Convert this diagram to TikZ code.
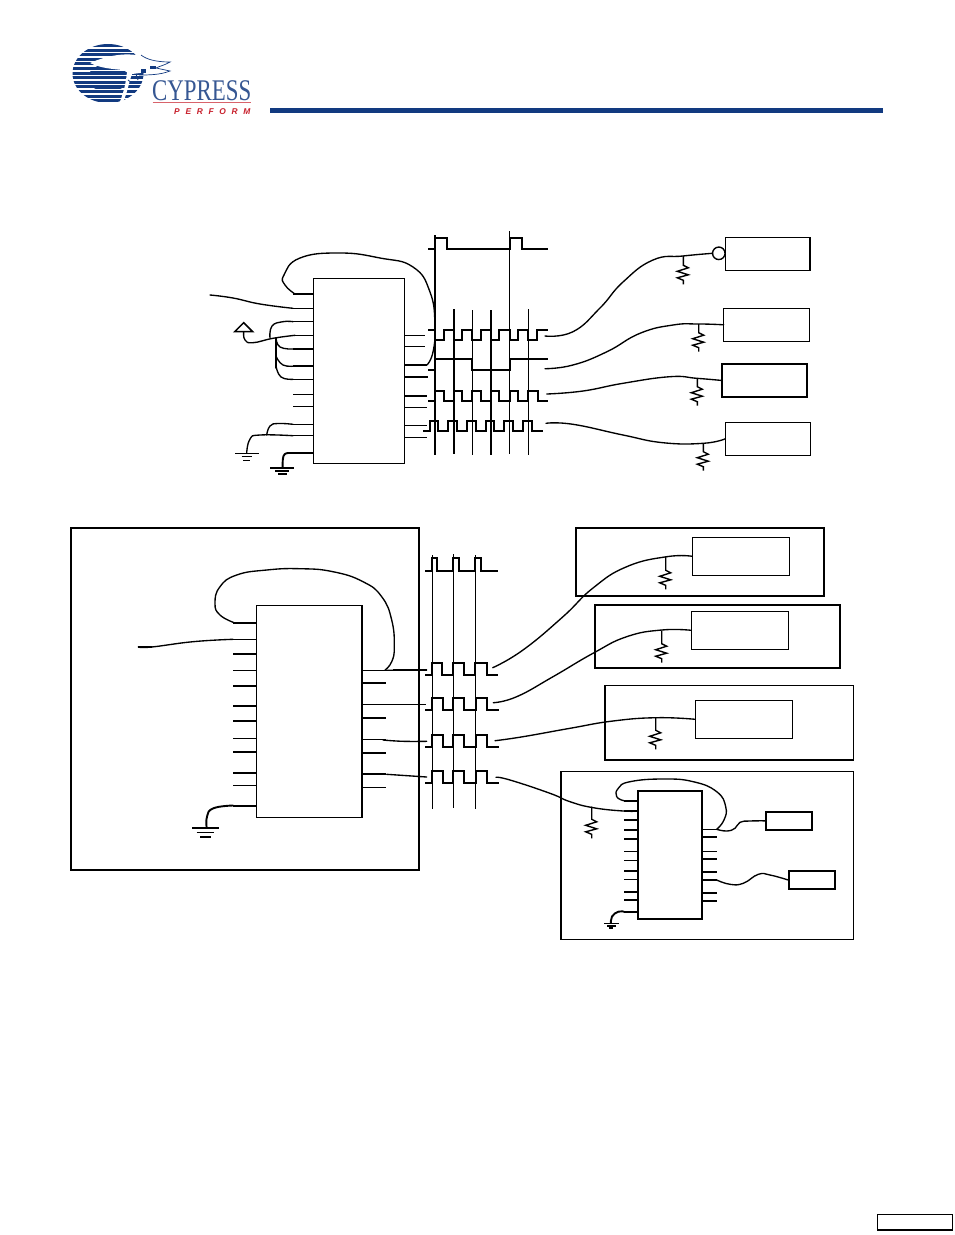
\documentclass[tikz,border=0pt]{standalone}
\usepackage{fontspec}
\setmainfont{Liberation Serif}
\newfontfamily\logosans{Liberation Sans}
\definecolor{cyblue}{HTML}{123A80}
\definecolor{cyred}{HTML}{C8202C}
\tikzset{
  thinl/.style={line width=1.1pt},
  thickl/.style={line width=1.9pt},
  curve/.style={line width=1.35pt,line cap=round,line join=round},
  sm/.style={smooth,tension=0.8},
  boxst/.style={draw,line width=1.4pt,inner sep=0pt,outer sep=0pt},
  boxthick/.style={draw,line width=2.1pt,inner sep=0pt,outer sep=0pt},
  wavel/.style={line width=1.9pt,line join=miter},
  resl/.style={line width=1.4pt,line join=miter},
}
\newcommand{\boxat}[6][boxst]{\node[#1,minimum width={#5-#3},minimum height={#6-#4}] (#2) at ({(#3+#5)/2},{(#4+#6)/2}) {};}
% resistor: name, x, top y, bottom y
\newcommand{\resis}[4]{\coordinate (#1top) at (#2,#3); \coordinate (#1bot) at (#2,#4);
  \draw[resl] (#1top) -- (#2,#4-19) -- ++(5,2.5) -- ++(-11,3.5) -- ++(11,3.5) -- ++(-11,3) -- ++(6,2.5) -- (#1bot);}
\begin{document}
\begin{tikzpicture}[x=1pt,y=-1pt]
\useasboundingbox (0,0) rectangle (954,1235);
\fill[white] (0,0) rectangle (954,1235);
% ---------- logo
\begin{scope}
  \clip (108,73.5) ellipse [x radius=35.5,y radius=29.5];
  \foreach \yy in {44,48.6,...,104}{\fill[cyblue] (70,\yy) rectangle (146,\yy+2.9);}
  \fill[cyblue] (108,78) ellipse [x radius=20,y radius=14];
  \foreach \yy in {70.2,74.8,79.4,84,88.6}{\fill[white] (85,\yy) rectangle (128,\yy+1.1);}
\end{scope}
\fill[white] (90,63) .. controls (106,56) and (125,52) .. (141,56) -- (143,62) -- (157,65) -- (157,72) -- (140,73) -- (132,74) .. controls (128,85) and (127,95) .. (122,104) -- (119,104) .. controls (124,92) and (126,82) .. (127,72) -- (123,70) .. controls (112,69) and (100,68) .. (90,63) -- cycle;
\draw[cyblue,line width=0.7pt] (141,55) .. controls (146,59) and (155,62) .. (170,62) .. controls (165,65) and (160,66) .. (156,68) -- (170,71) .. controls (160,75) and (148,75) .. (139,75);
\fill[cyblue] (141,69) rectangle (146,72.5);
\fill[cyblue] (150,66) rectangle (156,69);
\draw[cyblue,line width=0.8pt] (128,80) -- (132,83) (136,74) -- (138,80);
\node[inner sep=0pt,anchor=base west,xscale=0.762,text=cyblue!85,font=\fontsize{30}{30}\selectfont] (logoname) at (152,100) {CYPRESS};
\draw[cyred!70,line width=0.6pt] (152.7,102.7) -- (250.7,102.7);
\node[inner sep=0pt,anchor=base west,text=cyred,font=\logosans\bfseries\itshape\fontsize{8.4}{8.4}\selectfont\addfontfeature{LetterSpace=68}] (logoperf) at (174,114) {PERFORM};
\fill[cyblue] (270,108) rectangle (883,113);
% ---------- top section
\boxat{u1}{313.3}{278.7}{404.7}{463.3}
\boxat{t2}{723.7}{308.3}{809.3}{341.3}
\boxat{t1}{725.3}{237.3}{810}{270.3}
\boxat[boxthick]{t3}{722.3}{364}{807.3}{397}
\boxat{t4}{725.3}{422.3}{810.3}{455.3}
\foreach \yy in {308.3,321.7,335.3,379.3,394.3,406.3,424.3,435.7}{\draw[thinl] (u1.west |- 0,\yy) -- ++(-20,0);}
\foreach \yy in {294,349,366}{\draw[thickl] (u1.west |- 0,\yy) -- ++(-20,0);}
\draw[thickl] (u1.west |- 0,453) -- ++(-25,0) coordinate (g2a);
\foreach \yy/\ww in {335.3/20,346.3/20,407.3/22,425.3/22,437.3/22}{\draw[thinl] (u1.east |- 0,\yy) -- ++(\ww,0);}
\foreach \yy/\ww in {365/22,377/23,396/22}{\draw[thickl] (u1.east |- 0,\yy) -- ++(\ww,0);}
% feedback loop
\coordinate (lp1) at (295,294);
\coordinate (lp2) at (427,365);
\draw[curve] plot[sm] coordinates {(lp1) (285,285) (284,275) (300,258) (340,253) (380,258) (413,267) (430,292) (435,325) (433,352) (lp2)};
% input
\coordinate (in1) at (210,295);
\coordinate (in1e) at (293,308.3);
\draw[curve] plot[sm] coordinates {(in1) (233,298) (260,304) (in1e)};
% supply arrow and straps
\coordinate (vcc) at (243.7,331.7);
\coordinate (vt) at (243.7,322.7);
\draw[line width=1.5pt,line join=miter] (vt) -- (234.7,331.7) -- (252.7,331.7) -- cycle;
\draw[curve] plot[sm] coordinates {(vcc) (245,340) (253,342.7) (273,338.3) (295,335.3)};
\draw[curve] plot[sm] coordinates {(270,338) (272,326) (283,321.7) (293,321.7)};
\draw[curve] plot[sm] coordinates {(276,338) (280,347) (293,349)};
\draw[curve] (276,338) -- (276,368);
\draw[curve] plot[sm] coordinates {(276,356) (283,365) (296,366)};
\draw[curve] plot[sm] coordinates {(276,366) (281,377) (293,379.3)};
% grounds
\coordinate (g1) at (246.7,453);
\draw[curve] plot[sm] coordinates {(g1) (250,439) (260,435) (293,435.7)};
\draw[curve] plot[sm] coordinates {(266.7,435) (270,426) (278,423.5) (293,424.3)};
\draw[thinl] (235,453.3) -- (259,453.3) (241.7,456.9) -- (251.7,456.9) (243,460.3) -- (250,460.3);
\draw[thickl] plot[sm] coordinates {(g2a) (283.5,456) (282.7,467.7)};
\draw[thickl] (270,467.7) -- (294,467.7) (275,471) -- (289,471) (278,474.3) -- (287,474.3);
% timing rails
\foreach \xx/\ya/\yb/\lw in {435/235/455/1.9,454/309/454/1.7,472.3/310/455/1.1,491/310/455/1.7,509.7/231/454/1.1,528.3/309/455/1.1}{\draw[line width=\lw pt] (\xx,\ya) -- (\xx,\yb);}
% waves top
\draw[wavel] (428.3,249) -| (435,238) -| (447,249) -| (510,238) -| (522,249) -- (547.7,249);
\draw[wavel] (428.3,330.3) -| (435,340.3) -| (444.3,330.3) -| (454.3,340.3) -| (462.3,330.3) -| (472.3,340.3) -| (480.7,330.3) -| (491,340.3) -| (499,330.3) -| (509.7,340.3) -| (517.7,330.3) -| (528.3,340.3) -| (536.7,330.3) -- (547.7,330.3);
\draw[wavel] (428.3,370.3) -| (435,359.3) -| (472.3,370.3) -| (509.7,359.3) -- (547.7,359.3);
\draw[wavel] (428.3,400.7) -| (435,390.7) -| (444.3,400.7) -| (454,390.7) -| (462.3,400.7) -| (472.3,390.7) -| (480.7,400.7) -| (491,390.7) -| (499,400.7) -| (509.7,390.7) -| (517.7,400.7) -| (528.3,390.7) -| (537.7,400.7) -- (547.7,400.7);
\draw[wavel] (423.3,430.7) -| (430,420.7) -| (438.3,430.7) -| (448.3,420.7) -| (456.7,430.7) -| (466.7,420.7) -| (475.7,430.7) -| (485.7,420.7) -| (494,430.7) -| (504,420.7) -| (513.3,430.7) -| (522.7,420.7) -| (532.3,430.7) -- (542.7,430.7);
% terminator and outgoing traces
\node[draw,circle,line width=1.4pt,minimum size=12.5pt,inner sep=0pt,outer sep=0pt] (term) at (718.8,253.3) {};
\coordinate (o1) at (545,336);
\coordinate (o2) at (545,368.7);
\coordinate (o3) at (546.7,394);
\coordinate (o4) at (546,423.3);
\draw[curve] plot[sm] coordinates {(o1) (573,331.7) (600,308) (623,282) (653,260) (683,256) (term.west)};
\draw[curve] plot[sm] coordinates {(o2) (573,365) (607,351.7) (640,333.3) (673,325) (698.7,324) (t2.west)};
\draw[curve] plot[sm] coordinates {(o3) (583,391) (623,383.3) (670,376.7) (696.7,378.3) (t3.west)};
\draw[curve] plot[sm] coordinates {(o4) (573,424.3) (623,435) (663,442.7) (703.3,443.3) (t4.west)};
\resis{r1}{683.3}{256}{284.3}
\resis{r2}{698.7}{324}{351.7}
\resis{r3}{697.3}{378.3}{405.7}
\resis{r4}{703.3}{443.3}{470.7}
% ---------- lower section
\boxat[boxthick]{outer}{71}{528}{419}{870}
\boxat{u2}{256.7}{605.7}{362}{817.3}
\foreach \yy in {639.3,670.3,738.3,785.7}{\draw[thinl] (u2.west |- 0,\yy) -- ++(-23.4,0);}
\foreach \yy in {623,654,685.7,705.7,721,751.7,773,805.7}{\draw[thickl] (u2.west |- 0,\yy) -- ++(-23.4,0);}
\foreach \yy in {670.3,704.3,739.3,787.3}{\draw[thinl] (u2.east |- 0,\yy) -- ++(24,0);}
\foreach \yy in {683,718,752.7,774}{\draw[thickl] (u2.east |- 0,\yy) -- ++(24,0);}
\coordinate (lq1) at (235,623);
\coordinate (lq2) at (385,670);
\draw[curve] plot[sm] coordinates {(lq1) (220,615) (215,603.3) (220,586.7) (236.7,575) (266.7,570) (300,568.7) (333,571.7) (363,581.7) (381.7,596.7) (391.7,620) (394.3,646.7) (391.7,661.7) (lq2)};
\coordinate (in2) at (138.3,647);
\coordinate (in2e) at (233,639.3);
\draw[curve] plot[sm] coordinates {(in2) (151.7,647) (193,641.7) (in2e)};
\draw[thickl] (138.3,647) -- (151.7,647);
\coordinate (g3) at (206.7,827.7);
\draw[thickl] plot[sm] coordinates {(233.3,805.5) (213.3,808.3) (207,816.7) (g3)};
\draw[thickl] (192,827.7) -- (219,827.7) (200,836.7) -- (211,836.7);
\draw[thinl] (196.7,832.7) -- (214.3,832.7);
% rails and links
\foreach \xx/\ya/\yb in {432.3/555/809.3,453.3/554/808.3,475.3/555/809.3}{\draw[thinl] (\xx,\ya) -- (\xx,\yb);}
\draw[curve] (386,670.3) -- (426.7,670);
\draw[thickl] (393,670) -- (426.7,670);
\draw[thinl] (386,704.3) -- (426,704.3);
\draw[curve] plot[sm] coordinates {(383,740) (403,741.3) (426.7,741.3)};
\draw[curve] (386.7,774.3) -- (426.7,777);
% waves lower
\draw[wavel] (425,570.7) -| (432.3,558.3) -| (437.3,570.7) -| (453.3,558.3) -| (459,570.7) -| (475.3,558.3) -| (481,570.7) -- (497.7,570.7);
\draw[wavel] (425,675) -| (431.7,662.7) -| (442.3,675) -| (453.3,662.7) -| (464,675) -| (475.3,662.7) -| (486.7,675) -- (497.7,675);
\draw[wavel] (425,710) -| (432.3,698) -| (443.3,710) -| (453.3,698) -| (464.3,710) -| (476,698) -| (486.7,710) -- (498.7,710);
\draw[wavel,line width=2.3pt] (425,747.3) -| (432.3,735.3) -| (443.3,747.3) -| (453.3,735.3) -| (464.3,747.3) -| (476,735.3) -| (486.7,747.3) -- (498.7,747.3);
\draw[wavel] (425,783) -| (432.3,770.7) -| (443.3,783) -| (453.3,770.7) -| (464.3,783) -| (476,770.7) -| (486.7,783) -- (498.7,783);
% receiver boards
\boxat[boxst,line width=1.7pt]{ba}{576}{528}{824.3}{595.7}
\boxat{ia}{692.3}{537.3}{789.3}{575.3}
\boxat[boxthick]{bb}{595}{605}{840}{668.3}
\boxat{ib}{691.3}{611.3}{788.3}{649.3}
\boxat[boxst,line width=1.3pt]{bc}{605}{685.7}{853.3}{760}
\boxat{ic}{695.3}{700.3}{792.3}{738.3}
\coordinate (pa) at (492.7,667.7);
\coordinate (pb) at (493.3,702.7);
\coordinate (pc) at (495,740.7);
\coordinate (pd) at (496,777.3);
\draw[curve] plot[sm] coordinates {(pa) (523,650) (563,616.7) (593,588) (626.7,566.7) (666.7,556.7) (ia.west)};
\draw[curve] plot[sm] coordinates {(pb) (516.7,696.7) (553,676.7) (593,653.3) (626.7,636.7) (661.7,630) (ib.west)};
\draw[curve] plot[sm] coordinates {(pc) (523,736.7) (570,728.3) (613,721) (656.7,717.7) (ic.west)};
\resis{ra}{665.7}{556.7}{589.3}
\resis{rb}{661.7}{630.7}{662.7}
\resis{rc}{655.7}{717.7}{749.3}
% board D
\boxat[boxst,line width=1.4pt]{bd}{561}{771.7}{853.3}{939.3}
\boxat[boxst,line width=1.6pt]{u3}{638}{790.7}{702}{919}
\boxat[boxst,line width=1.8pt]{ld1}{766}{811.7}{812.3}{830}
\boxat[boxst,line width=2pt]{ld2}{788.7}{871}{835.3}{889.3}
\foreach \yy in {851.3,860.3,879.3}{\draw[thinl] (u3.west |- 0,\yy) -- ++(-14,0);}
\foreach \yy in {800.7,811,819.7,829.7,838.7,871,891.7,900,911.7}{\draw[thickl] (u3.west |- 0,\yy) -- ++(-14,0);}
\foreach \yy in {829.3,851.3}{\draw[thinl] (u3.east |- 0,\yy) -- ++(15.3,0);}
\foreach \yy in {836.7,858.7,871.7,880,892.7,900.7}{\draw[thickl] (u3.east |- 0,\yy) -- ++(15.3,0);}
\draw[curve] plot[sm] coordinates {(pd) (510,780) (550,793.3) (570,801.7) (593.3,807.7) (623.3,811) (u3.west |- 0,811)};
\resis{rd}{591.7}{806.7}{838.3}
\coordinate (lr1) at (624,800.7);
\coordinate (lr2) at (716.7,829.3);
\draw[curve] plot[sm] coordinates {(lr1) (616.7,796.7) (618.3,788.3) (630,781.7) (663.3,779) (693.3,781.7) (716.7,791.7) (725.7,806.7) (724,820) (lr2)};
\draw[curve] plot[sm] coordinates {(lr2) (726.7,831) (735,828.3) (740,822.3) (750,821) (ld1.west)};
\coordinate (lo2) at (716.7,880);
\draw[curve] plot[sm] coordinates {(lo2) (730,884.3) (743.3,883.3) (758.3,874.3) (770,875) (ld2.west)};
\coordinate (g4) at (611,923.3);
\draw[thickl] plot[sm] coordinates {(624,911.7) (618.3,911.7) (612,916.5) (g4)};
\draw[thinl] (604.3,923.7) -- (619,923.7);
\draw[thickl] (607.3,926) -- (615.7,926) (608.7,928) -- (613.3,928);
% page-number box
\boxat[boxst,line width=1.6pt]{pg}{877.3}{1214.3}{952.3}{1230}
\end{tikzpicture}
\end{document}
